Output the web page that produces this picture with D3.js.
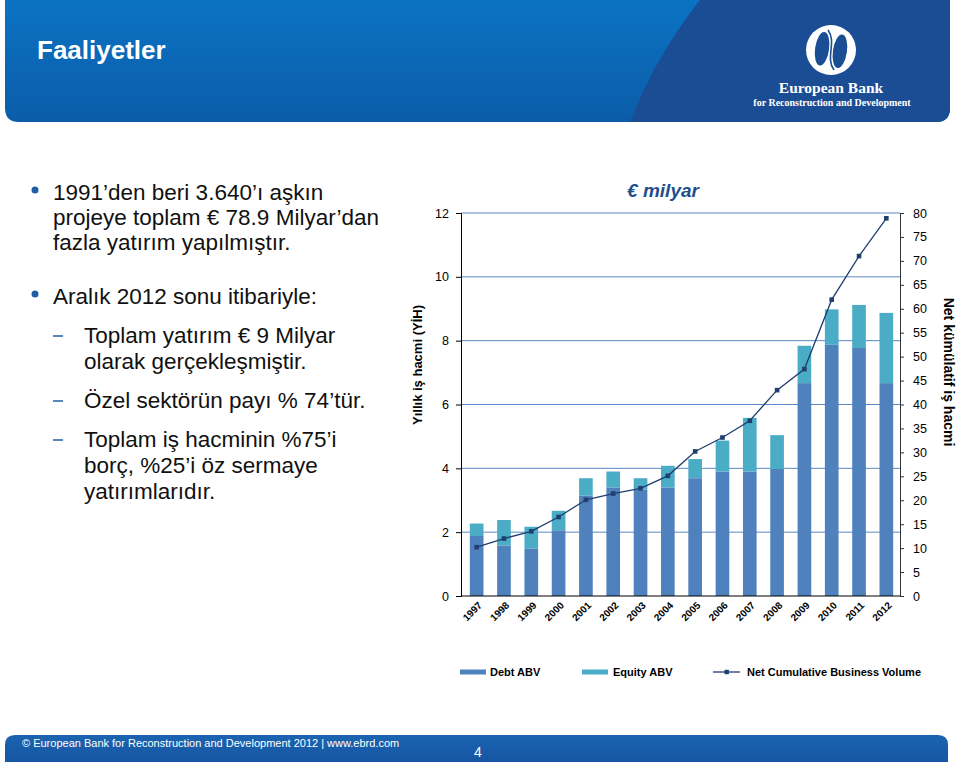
<!DOCTYPE html>
<html><head><meta charset="utf-8">
<script src="https://cdn.jsdelivr.net/npm/d3@7"></script>
<style>
body{margin:0;background:#fff;}
svg{display:block;font-family:"Liberation Sans",Arial,sans-serif;}
</style></head>
<body>
<svg id="c" width="960" height="762"></svg>
<script>
const years = ["1997","1998","1999","2000","2001","2002","2003","2004","2005","2006","2007","2008","2009","2010","2011","2012"];
const debt   = [1.88,1.58,1.48,2.06,3.15,3.40,3.33,3.40,3.69,3.90,3.90,3.98,6.67,7.87,7.77,6.67];
const equity = [0.39,0.80,0.69,0.61,0.54,0.50,0.36,0.68,0.60,0.97,1.68,1.06,1.17,1.11,1.35,2.20];
const cumulative = [10.2,12.0,13.5,16.5,20.1,21.4,22.5,25.1,30.2,33.1,36.6,43.0,47.4,61.9,71.0,78.9];
const leftTicks = [0,2,4,6,8,10,12];
const rightTicks = [0,5,10,15,20,25,30,35,40,45,50,55,60,65,70,75,80];
const bullets = [
  {lvl:1, lines:["1991’den beri 3.640’ı aşkın","projeye toplam € 78.9 Milyar’dan","fazla yatırım yapılmıştır."], y:[192,217,242]},
  {lvl:1, lines:["Aralık 2012 sonu itibariyle:"], y:[296]},
  {lvl:2, lines:["Toplam yatırım € 9 Milyar","olarak gerçekleşmiştir."], y:[335,361]},
  {lvl:2, lines:["Özel sektörün payı % 74’tür."], y:[400]},
  {lvl:2, lines:["Toplam iş hacminin %75’i","borç, %25’i öz sermaye","yatırımlarıdır."], y:[439,465,491]}
];
const legendItems = [
  {label:"Debt ABV", kind:"bar", color:"#4f81bd", x:460, tx:490},
  {label:"Equity ABV", kind:"bar", color:"#4bacc6", x:582, tx:613},
  {label:"Net Cumulative Business Volume", kind:"line", color:"#1f3f6e", x:713, tx:747}
];

const svg = d3.select("#c");
const defs = svg.append("defs");
const g1 = defs.append("linearGradient").attr("id","hdr").attr("x1",0).attr("y1",0).attr("x2",0).attr("y2",1);
g1.append("stop").attr("offset","0%").attr("stop-color","#0b73c3");
g1.append("stop").attr("offset","100%").attr("stop-color","#0b5ba7");
const g2 = defs.append("linearGradient").attr("id","ftr").attr("x1",0).attr("y1",0).attr("x2",0).attr("y2",1);
g2.append("stop").attr("offset","0%").attr("stop-color","#1b63b0");
g2.append("stop").attr("offset","100%").attr("stop-color","#1656a2");
defs.append("clipPath").attr("id","hclip").append("path")
  .attr("d","M5,0 H950 V108 Q950,122 936,122 H19 Q5,122 5,108 Z");

// Header
const hdr = svg.append("g").attr("clip-path","url(#hclip)");
hdr.append("rect").attr("x",0).attr("y",0).attr("width",960).attr("height",130).attr("fill","url(#hdr)");
hdr.append("circle").attr("cx",1081).attr("cy",300).attr("r",485).attr("fill","#1a4d93");
svg.append("text").attr("x",37).attr("y",59).attr("fill","#fff").attr("font-size",26).attr("font-weight","bold").text("Faaliyetler");

// Logo
const lg = svg.append("g").attr("transform","translate(831,50)");
lg.append("ellipse").attr("rx",25).attr("ry",25).attr("fill","#fff");
lg.append("ellipse").attr("cx",-9).attr("rx",7).attr("ry",17).attr("transform","rotate(8)").attr("fill","#1a4d93");
lg.append("ellipse").attr("cx",9).attr("rx",7).attr("ry",17).attr("transform","rotate(8)").attr("fill","#1a4d93");
lg.append("path").attr("d","M-3,-20 C6,-8 -6,8 3,20").attr("fill","none").attr("stroke","#1a4d93").attr("stroke-width",1.6);
svg.append("text").attr("x",831).attr("y",93).attr("text-anchor","middle").attr("fill","#fff")
  .attr("font-family","'Liberation Serif','DejaVu Serif',serif").attr("font-weight","bold").attr("font-size",15.5).text("European Bank");
svg.append("text").attr("x",832).attr("y",106).attr("text-anchor","middle").attr("fill","#fff")
  .attr("font-family","'Liberation Serif','DejaVu Serif',serif").attr("font-weight","bold").attr("font-size",10).text("for Reconstruction and Development");

// Bullets
const bt = svg.append("g");
bullets.forEach(b=>{
  if(b.lvl===1){
    bt.append("circle").attr("cx",35).attr("cy",b.y[0]-2).attr("r",3.5).attr("fill","#1f5fa8");
  } else {
    bt.append("line").attr("x1",53).attr("x2",63).attr("y1",b.y[0]+1).attr("y2",b.y[0]+1).attr("stroke","#1f5fa8").attr("stroke-width",1.5);
  }
  b.lines.forEach((l,i)=>{
    bt.append("text").attr("x",b.lvl===1?53:84).attr("y",b.y[i]+8).attr("font-size",22.5).attr("fill","#111").text(l);
  });
});

// Chart
const x = d3.scaleBand().domain(years).range([463,900]).paddingInner(0.5).paddingOuter(0.25);
const y = d3.scaleLinear().domain([0,12]).range([596,213]);
const yR = d3.scaleLinear().domain([0,80]).range([596,213]);
const L = 461, R = 900;

const ch = svg.append("g");
ch.append("g").selectAll("line").data(leftTicks.filter(d=>d>0)).join("line")
  .attr("x1",L).attr("x2",R).attr("y1",d=>y(d)).attr("y2",d=>y(d))
  .attr("stroke","#5b87c2").attr("stroke-width",1);

const stack = years.map((yr,i)=>({yr, d:debt[i], e:equity[i]}));
ch.append("g").selectAll("rect").data(stack).join("rect")
  .attr("x",d=>x(d.yr)).attr("width",x.bandwidth())
  .attr("y",d=>y(d.d)).attr("height",d=>y(0)-y(d.d)).attr("fill","#4f81bd");
ch.append("g").selectAll("rect").data(stack).join("rect")
  .attr("x",d=>x(d.yr)).attr("width",x.bandwidth())
  .attr("y",d=>y(d.d+d.e)).attr("height",d=>y(d.d)-y(d.d+d.e)).attr("fill","#4bacc6");

const axL = d3.axisLeft(y).tickValues(leftTicks).tickSize(5).tickPadding(7);
const gL = ch.append("g").attr("transform",`translate(${L},0)`).call(axL);
gL.select(".domain").attr("stroke","#000");
gL.selectAll(".tick line").attr("stroke","#000");
gL.selectAll("text").attr("font-size",12.5).attr("fill","#000").attr("font-family","'Liberation Sans',Arial,sans-serif");

const axR = d3.axisRight(yR).tickValues(rightTicks).tickSize(4).tickPadding(9);
const gR = ch.append("g").attr("transform",`translate(${R},0)`).call(axR);
gR.select(".domain").attr("stroke","#333");
gR.selectAll(".tick line").attr("stroke","#333");
gR.selectAll("text").attr("font-size",12.5).attr("fill","#000").attr("font-family","'Liberation Sans',Arial,sans-serif");

const axB = d3.axisBottom(x).tickSize(0).tickPadding(0);
const gB = ch.append("g").attr("transform",`translate(0,${y(0)})`).call(axB);
gB.select(".domain").attr("stroke","#000").attr("d",`M${L},0H${R}`);
gB.selectAll("text").attr("font-size",10).attr("font-weight","bold").attr("fill","#000")
  .attr("font-family","'Liberation Sans',Arial,sans-serif")
  .attr("text-anchor","end").attr("dy",0).attr("y",0)
  .attr("transform","translate(6,10) rotate(-45)");

const line = d3.line().x((d,i)=>x(years[i])+x.bandwidth()/2).y(d=>yR(d));
ch.append("path").datum(cumulative).attr("d",line).attr("fill","none").attr("stroke","#1f3f6e").attr("stroke-width",1.3);
ch.append("g").selectAll("rect").data(cumulative).join("rect")
  .attr("x",(d,i)=>x(years[i])+x.bandwidth()/2-2.3).attr("y",d=>yR(d)-2.3)
  .attr("width",4.6).attr("height",4.6).attr("fill","#1f3f6e");

svg.append("text").attr("x",663).attr("y",197).attr("text-anchor","middle").attr("fill","#1f4e8c")
  .attr("font-size",19).attr("font-weight","bold").attr("font-style","italic").text("€ milyar");
svg.append("text").attr("transform","translate(422,365) rotate(-90)").attr("text-anchor","middle")
  .attr("font-size",13).attr("font-weight","bold").attr("fill","#000").text("Yıllık iş hacmi (YİH)");
svg.append("text").attr("transform","translate(944,372) rotate(90)").attr("text-anchor","middle")
  .attr("font-size",14).attr("font-weight","bold").attr("fill","#000").text("Net kümülatif iş hacmi");

const leg = svg.append("g");
legendItems.forEach(it=>{
  if(it.kind==="bar"){
    leg.append("rect").attr("x",it.x).attr("y",669.5).attr("width",26).attr("height",5).attr("fill",it.color);
  } else {
    leg.append("line").attr("x1",it.x).attr("x2",it.x+27).attr("y1",672).attr("y2",672).attr("stroke",it.color).attr("stroke-width",1.3);
    leg.append("rect").attr("x",it.x+11.5).attr("y",669.8).attr("width",4.4).attr("height",4.4).attr("fill",it.color);
  }
  leg.append("text").attr("x",it.tx).attr("y",676).attr("font-size",11).attr("font-weight","bold").attr("fill","#000").text(it.label);
});

svg.append("path").attr("d","M5,762 V745 Q5,735 15,735 H938 Q948,735 948,745 V762 Z").attr("fill","url(#ftr)");
svg.append("text").attr("x",22).attr("y",747).attr("font-size",11).attr("fill","#fff").text("© European Bank for Reconstruction and Development 2012 | www.ebrd.com");
svg.append("text").attr("x",478).attr("y",757).attr("text-anchor","middle").attr("font-size",14).attr("fill","#fff").text("4");
</script>
</body></html>
